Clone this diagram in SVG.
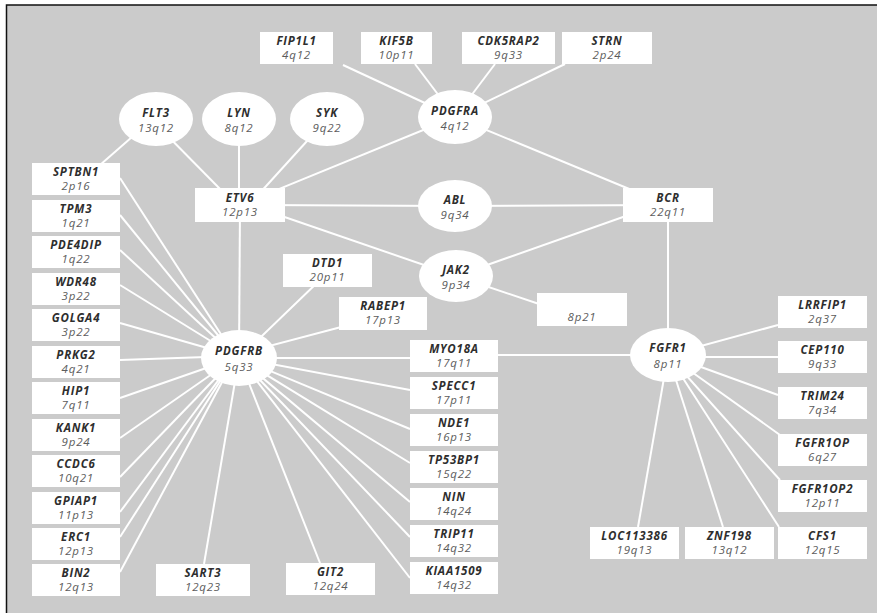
<svg xmlns="http://www.w3.org/2000/svg" width="877" height="613" viewBox="0 0 877 613">
  <style>
    .bg { fill: #cbcbcb; stroke: #111; stroke-width: 1.5; }
    .box { fill: #ffffff; }
    .ell { fill: #ffffff; }
    .name { font-family: "Open Sans", "DejaVu Sans", sans-serif; font-size: 11.5px; font-weight: bold; font-style: italic; fill: #2e2e2e; text-anchor: middle; letter-spacing: 0.8px; }
    .band { font-family: "Open Sans", "DejaVu Sans", sans-serif; font-size: 11.5px; font-style: italic; fill: #5c5c5c; text-anchor: middle; letter-spacing: 0.8px; }
    #edges line { stroke: #ffffff; stroke-width: 2; }
  </style>

  <rect x="0" y="0" width="877" height="613" fill="#ffffff"/>
  <rect class="bg" x="6.5" y="5" width="880" height="620"/>

  <g id="edges">
    <!-- PDGFRA partners -->
    <line x1="343" y1="65" x2="455" y2="117"/>
    <line x1="415" y1="64" x2="455" y2="117"/>
    <line x1="495" y1="64" x2="455" y2="117"/>
    <line x1="565" y1="64" x2="455" y2="117"/>
    <line x1="455" y1="117" x2="668" y2="205"/>
    <line x1="455" y1="117" x2="240" y2="205"/>
    <!-- ETV6 partners -->
    <line x1="152" y1="120" x2="222" y2="191"/>
    <line x1="140" y1="130" x2="100" y2="165"/>
    <line x1="239" y1="119" x2="239" y2="205"/>
    <line x1="327" y1="119" x2="258" y2="195"/>
    <line x1="240" y1="205" x2="455" y2="206"/>
    <line x1="270" y1="212" x2="456" y2="276"/>
    <line x1="240" y1="205" x2="239" y2="358"/>
    <!-- BCR / JAK2 -->
    <line x1="455" y1="206" x2="668" y2="205"/>
    <line x1="456" y1="276" x2="640" y2="211"/>
    <line x1="456" y1="276" x2="545" y2="306"/>
    <line x1="668" y1="205" x2="668" y2="355"/>
    <!-- PDGFRB partners -->
    <line x1="320" y1="280" x2="239" y2="358"/>
    <line x1="345" y1="326" x2="239" y2="354"/>
    <line x1="239" y1="358" x2="410" y2="358"/>
    <line x1="498" y1="355" x2="668" y2="355"/>
    <line x1="239" y1="358" x2="410" y2="390"/>
    <line x1="239" y1="358" x2="410" y2="429"/>
    <line x1="239" y1="358" x2="410" y2="463"/>
    <line x1="239" y1="358" x2="410" y2="502"/>
    <line x1="239" y1="358" x2="410" y2="537"/>
    <line x1="239" y1="358" x2="410" y2="578"/>
    <line x1="239" y1="358" x2="320" y2="563"/>
    <line x1="239" y1="358" x2="204" y2="564"/>
    <line x1="235" y1="356" x2="120" y2="178"/>
    <line x1="235" y1="356" x2="120" y2="215"/>
    <line x1="235" y1="356" x2="120" y2="250"/>
    <line x1="235" y1="356" x2="120" y2="285"/>
    <line x1="235" y1="356" x2="120" y2="323"/>
    <line x1="235" y1="356" x2="120" y2="360"/>
    <line x1="235" y1="358" x2="120" y2="398"/>
    <line x1="235" y1="358" x2="120" y2="438"/>
    <line x1="235" y1="358" x2="120" y2="477"/>
    <line x1="235" y1="358" x2="120" y2="512"/>
    <line x1="235" y1="358" x2="120" y2="537"/>
    <line x1="235" y1="358" x2="120" y2="572"/>
    <!-- FGFR1 partners -->
    <line x1="668" y1="355" x2="778" y2="325"/>
    <line x1="668" y1="357" x2="778" y2="357"/>
    <line x1="668" y1="355" x2="778" y2="395"/>
    <line x1="668" y1="355" x2="780" y2="435"/>
    <line x1="668" y1="355" x2="780" y2="480"/>
    <line x1="668" y1="355" x2="779" y2="527"/>
    <line x1="668" y1="355" x2="723" y2="527"/>
    <line x1="668" y1="355" x2="638" y2="527"/>
  </g>

  <!-- top row -->
  <g id="FIP1L1"><rect class="box" x="260" y="32" width="73" height="32"/><text class="name" x="296.5" y="45">FIP1L1</text><text class="band" x="296.5" y="59">4q12</text></g>
  <g id="KIF5B"><rect class="box" x="361" y="32" width="71" height="32"/><text class="name" x="396.5" y="45">KIF5B</text><text class="band" x="396.5" y="59">10p11</text></g>
  <g id="CDK5RAP2"><rect class="box" x="462" y="32" width="93" height="32"/><text class="name" x="508.5" y="45">CDK5RAP2</text><text class="band" x="508.5" y="59">9q33</text></g>
  <g id="STRN"><rect class="box" x="562" y="32" width="90" height="32"/><text class="name" x="607" y="45">STRN</text><text class="band" x="607" y="59">2p24</text></g>

  <!-- ellipses -->
  <g id="FLT3"><ellipse class="ell" cx="156" cy="119" rx="37" ry="27"/><text class="name" x="156" y="117">FLT3</text><text class="band" x="156" y="132">13q12</text></g>
  <g id="LYN"><ellipse class="ell" cx="239" cy="119" rx="37" ry="27"/><text class="name" x="239" y="117">LYN</text><text class="band" x="239" y="132">8q12</text></g>
  <g id="SYK"><ellipse class="ell" cx="327" cy="119" rx="37" ry="27"/><text class="name" x="327" y="117">SYK</text><text class="band" x="327" y="132">9q22</text></g>
  <g id="PDGFRA"><ellipse class="ell" cx="455" cy="117" rx="37" ry="27"/><text class="name" x="455" y="115">PDGFRA</text><text class="band" x="455" y="130">4q12</text></g>
  <g id="ABL"><ellipse class="ell" cx="455" cy="206" rx="37" ry="26"/><text class="name" x="455" y="204">ABL</text><text class="band" x="455" y="219">9q34</text></g>
  <g id="JAK2"><ellipse class="ell" cx="456" cy="276" rx="37" ry="26"/><text class="name" x="456" y="274">JAK2</text><text class="band" x="456" y="289">9p34</text></g>
  <g id="PDGFRB"><ellipse class="ell" cx="239" cy="358" rx="38" ry="28"/><text class="name" x="239" y="355">PDGFRB</text><text class="band" x="239" y="371">5q33</text></g>
  <g id="FGFR1"><ellipse class="ell" cx="668" cy="355" rx="38" ry="27"/><text class="name" x="668" y="352">FGFR1</text><text class="band" x="668" y="368">8p11</text></g>

  <!-- middle boxes -->
  <g id="ETV6"><rect class="box" x="195" y="188" width="90" height="34"/><text class="name" x="240" y="202">ETV6</text><text class="band" x="240" y="216">12p13</text></g>
  <g id="BCR"><rect class="box" x="623" y="188" width="90" height="34"/><text class="name" x="668" y="202">BCR</text><text class="band" x="668" y="216">22q11</text></g>
  <g id="DTD1"><rect class="box" x="283" y="254" width="89" height="33"/><text class="name" x="327.5" y="267">DTD1</text><text class="band" x="327.5" y="281">20p11</text></g>
  <g id="RABEP1"><rect class="box" x="339" y="297" width="88" height="33"/><text class="name" x="383" y="310">RABEP1</text><text class="band" x="383" y="324">17p13</text></g>
  <g id="band-8p21"><rect class="box" x="537" y="293" width="90" height="33"/><text class="band" x="582" y="321">8p21</text></g>

  <!-- left column -->
  <g id="SPTBN1"><rect class="box" x="32" y="163" width="88" height="32"/><text class="name" x="76" y="176">SPTBN1</text><text class="band" x="76" y="190">2p16</text></g>
  <g id="TPM3"><rect class="box" x="32" y="200" width="88" height="32"/><text class="name" x="76" y="213">TPM3</text><text class="band" x="76" y="227">1q21</text></g>
  <g id="PDE4DIP"><rect class="box" x="32" y="236" width="88" height="32"/><text class="name" x="76" y="249">PDE4DIP</text><text class="band" x="76" y="263">1q22</text></g>
  <g id="WDR48"><rect class="box" x="32" y="273" width="88" height="32"/><text class="name" x="76" y="286">WDR48</text><text class="band" x="76" y="300">3p22</text></g>
  <g id="GOLGA4"><rect class="box" x="32" y="309" width="88" height="32"/><text class="name" x="76" y="322">GOLGA4</text><text class="band" x="76" y="336">3p22</text></g>
  <g id="PRKG2"><rect class="box" x="32" y="346" width="88" height="32"/><text class="name" x="76" y="359">PRKG2</text><text class="band" x="76" y="373">4q21</text></g>
  <g id="HIP1"><rect class="box" x="32" y="382" width="88" height="32"/><text class="name" x="76" y="395">HIP1</text><text class="band" x="76" y="409">7q11</text></g>
  <g id="KANK1"><rect class="box" x="32" y="419" width="88" height="32"/><text class="name" x="76" y="432">KANK1</text><text class="band" x="76" y="446">9p24</text></g>
  <g id="CCDC6"><rect class="box" x="32" y="455" width="88" height="32"/><text class="name" x="76" y="468">CCDC6</text><text class="band" x="76" y="482">10q21</text></g>
  <g id="GPIAP1"><rect class="box" x="32" y="492" width="88" height="32"/><text class="name" x="76" y="505">GPIAP1</text><text class="band" x="76" y="519">11p13</text></g>
  <g id="ERC1"><rect class="box" x="32" y="528" width="88" height="32"/><text class="name" x="76" y="541">ERC1</text><text class="band" x="76" y="555">12p13</text></g>
  <g id="BIN2"><rect class="box" x="32" y="564" width="88" height="32"/><text class="name" x="76" y="577">BIN2</text><text class="band" x="76" y="591">12q13</text></g>

  <!-- bottom row -->
  <g id="SART3"><rect class="box" x="156" y="564" width="94" height="32"/><text class="name" x="203" y="577">SART3</text><text class="band" x="203" y="591">12q23</text></g>
  <g id="GIT2"><rect class="box" x="286" y="563" width="89" height="32"/><text class="name" x="330.5" y="576">GIT2</text><text class="band" x="330.5" y="590">12q24</text></g>

  <!-- column beside PDGFRB -->
  <g id="MYO18A"><rect class="box" x="410" y="340" width="88" height="32"/><text class="name" x="454" y="353">MYO18A</text><text class="band" x="454" y="367">17q11</text></g>
  <g id="SPECC1"><rect class="box" x="410" y="377" width="88" height="32"/><text class="name" x="454" y="390">SPECC1</text><text class="band" x="454" y="404">17p11</text></g>
  <g id="NDE1"><rect class="box" x="410" y="414" width="88" height="32"/><text class="name" x="454" y="427">NDE1</text><text class="band" x="454" y="441">16p13</text></g>
  <g id="TP53BP1"><rect class="box" x="410" y="451" width="88" height="32"/><text class="name" x="454" y="464">TP53BP1</text><text class="band" x="454" y="478">15q22</text></g>
  <g id="NIN"><rect class="box" x="410" y="488" width="88" height="32"/><text class="name" x="454" y="501">NIN</text><text class="band" x="454" y="515">14q24</text></g>
  <g id="TRIP11"><rect class="box" x="410" y="525" width="88" height="32"/><text class="name" x="454" y="538">TRIP11</text><text class="band" x="454" y="552">14q32</text></g>
  <g id="KIAA1509"><rect class="box" x="410" y="562" width="88" height="32"/><text class="name" x="454" y="575">KIAA1509</text><text class="band" x="454" y="589">14q32</text></g>

  <!-- FGFR1 partners -->
  <g id="LRRFIP1"><rect class="box" x="778" y="296" width="89" height="32"/><text class="name" x="822.5" y="309">LRRFIP1</text><text class="band" x="822.5" y="323">2q37</text></g>
  <g id="CEP110"><rect class="box" x="778" y="341" width="89" height="32"/><text class="name" x="822.5" y="354">CEP110</text><text class="band" x="822.5" y="368">9q33</text></g>
  <g id="TRIM24"><rect class="box" x="778" y="387" width="89" height="32"/><text class="name" x="822.5" y="400">TRIM24</text><text class="band" x="822.5" y="414">7q34</text></g>
  <g id="FGFR1OP"><rect class="box" x="778" y="434" width="89" height="32"/><text class="name" x="822.5" y="447">FGFR1OP</text><text class="band" x="822.5" y="461">6q27</text></g>
  <g id="FGFR1OP2"><rect class="box" x="778" y="480" width="89" height="32"/><text class="name" x="822.5" y="493">FGFR1OP2</text><text class="band" x="822.5" y="507">12p11</text></g>
  <g id="CFS1"><rect class="box" x="778" y="527" width="89" height="32"/><text class="name" x="822.5" y="540">CFS1</text><text class="band" x="822.5" y="554">12q15</text></g>
  <g id="LOC113386"><rect class="box" x="590" y="527" width="89" height="32"/><text class="name" x="634.5" y="540">LOC113386</text><text class="band" x="634.5" y="554">19q13</text></g>
  <g id="ZNF198"><rect class="box" x="685" y="527" width="89" height="32"/><text class="name" x="729.5" y="540">ZNF198</text><text class="band" x="729.5" y="554">13q12</text></g>
</svg>
